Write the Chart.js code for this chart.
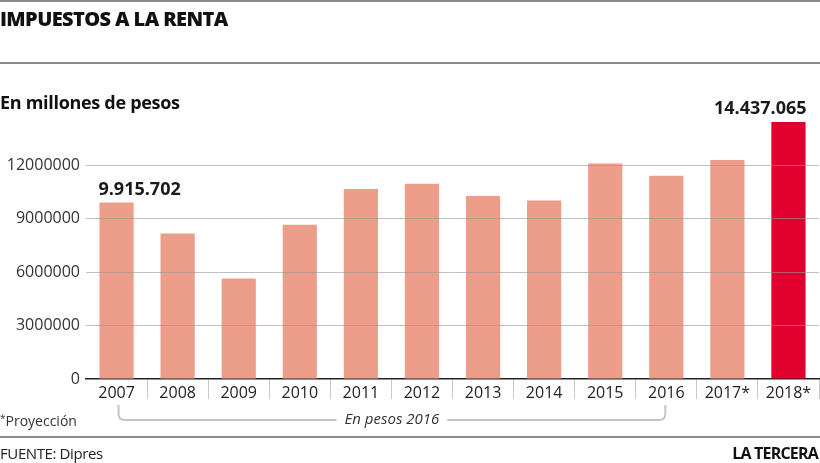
<!DOCTYPE html>
<html>
<head>
<meta charset="utf-8">
<script src="https://cdn.jsdelivr.net/npm/chart.js@4/dist/chart.umd.min.js"></script>
<style>
  html,body{margin:0;padding:0;background:#fff;}
  #wrap{position:relative;width:820px;height:463px;overflow:hidden;font-family:"Open Sans",sans-serif;color:#222;}
  canvas{position:absolute;left:0;top:0;}
  .rule{position:absolute;left:0;width:820px;height:2px;background:#8a8a8a;}
  .t{position:absolute;white-space:nowrap;}
</style>
</head>
<body>
<div id="wrap">
  <canvas id="c" width="820" height="463"></canvas>
  <div class="rule" style="top:0px;"></div>
  <div class="t" style="left:0;top:5px;font-size:20px;font-weight:800;letter-spacing:-0.6px;color:#111;">IMPUESTOS A LA RENTA</div>
  <div class="rule" style="top:62px;"></div>
  <div class="t" style="left:0;top:90px;font-size:18px;font-weight:700;letter-spacing:-0.3px;color:#111;">En millones de pesos</div>
  <div class="t" style="left:0;top:411px;font-size:14px;color:#333;"><span style="font-size:10px;vertical-align:4px;">*</span>Proyección</div>
  <div class="rule" style="top:436px;"></div>
  <div class="t" style="left:0;top:443px;font-size:15px;letter-spacing:-0.4px;color:#222;">FUENTE: Dipres</div>
  <div class="t" style="right:2px;top:442px;font-size:16px;font-weight:700;letter-spacing:-0.8px;color:#111;">LA TERCERA</div>
</div>
<script>
const categories = ["2007","2008","2009","2010","2011","2012","2013","2014","2015","2016","2017*","2018*"];
const values = [9915702, 8180000, 5650000, 8660000, 10670000, 10970000, 10280000, 10030000, 12110000, 11420000, 12300000, 14437065];
const barColors = ["#ec9e8a","#ec9e8a","#ec9e8a","#ec9e8a","#ec9e8a","#ec9e8a","#ec9e8a","#ec9e8a","#ec9e8a","#ec9e8a","#ec9e8a","#e0002d"];
const valueLabels = {0: "9.915.702", 11: "14.437.065"};
const yTicks = [0, 3000000, 6000000, 9000000, 12000000];
const bracketText = "En pesos 2016";

const annot = {
  id: 'annot',
  afterDatasetsDraw(chart) {
    const ctx = chart.ctx;
    const meta = chart.getDatasetMeta(0);
    ctx.save();
    ctx.fillStyle = '#1a1a1a';
    ctx.font = '700 18px "Open Sans", sans-serif';
    ctx.textBaseline = 'bottom';
    Object.keys(valueLabels).forEach(k => {
      const el = meta.data[k];
      const left = el.x - el.width / 2, right = el.x + el.width / 2;
      if (+k === 0) { ctx.textAlign = 'left'; ctx.fillText(valueLabels[k], left - 1, el.y - 4); }
      else { ctx.textAlign = 'right'; ctx.fillText(valueLabels[k], right + 1, el.y - 4); }
    });
    // bracket
    const xs = chart.scales.x;
    const x1 = xs.getPixelForValue(0) + 2, x2 = xs.getPixelForValue(9) - 1;
    const yTop = 405, yB = 420, r = 6;
    ctx.font = 'italic 15px "Open Sans", sans-serif';
    const tw = ctx.measureText(bracketText).width;
    const cx = (x1 + x2) / 2;
    ctx.strokeStyle = '#c4c4c4';
    ctx.lineWidth = 2;
    ctx.beginPath();
    ctx.moveTo(x1, yTop);
    ctx.lineTo(x1, yB - r);
    ctx.quadraticCurveTo(x1, yB, x1 + r, yB);
    ctx.lineTo(cx - tw / 2 - 8, yB);
    ctx.moveTo(cx + tw / 2 + 8, yB);
    ctx.lineTo(x2 - r, yB);
    ctx.quadraticCurveTo(x2, yB, x2, yB - r);
    ctx.lineTo(x2, yTop);
    ctx.stroke();
    ctx.fillStyle = '#333';
    ctx.textAlign = 'center';
    ctx.textBaseline = 'middle';
    ctx.fillText(bracketText, cx, yB);
    ctx.restore();
  }
};

new Chart(document.getElementById('c'), {
  type: 'bar',
  data: {
    labels: categories,
    datasets: [{
      data: values,
      backgroundColor: barColors,
      barPercentage: 0.56,
      categoryPercentage: 1.0
    }]
  },
  options: {
    responsive: false,
    animation: false,
    events: [],
    layout: { padding: { top: 112, right: 1, left: 0, bottom: 0 } },
    plugins: { legend: { display: false }, tooltip: { enabled: false } },
    scales: {
      x: {
        afterFit: s => { s.height = 84; },
        grid: {
          offset: true,
          drawOnChartArea: false,
          tickLength: 20,
          lineWidth: 1,
          color: c => (c.index === 0 || c.index === categories.length) ? 'rgba(0,0,0,0)' : '#c8c8c8'
        },
        border: { display: true, color: '#222', width: 1.5 },
        ticks: {
          padding: -15,
          color: '#222',
          font: { family: '"Open Sans", sans-serif', size: 16 },
          maxRotation: 0, autoSkip: false
        }
      },
      y: {
        min: 0,
        max: 15000000,
        afterFit: s => { s.width = 86; },
        afterBuildTicks: s => { s.ticks = yTicks.map(v => ({ value: v })); },
        border: { display: false },
        grid: {
          z: 1,
          drawTicks: false,
          lineWidth: 1,
          color: c => (c.tick && c.tick.value === 0) ? 'rgba(0,0,0,0)' : 'rgba(150,150,150,0.6)'
        },
        ticks: {
          padding: 6,
          color: '#333',
          font: { family: '"Open Sans", sans-serif', size: 16 },
          callback: v => String(v)
        }
      }
    }
  },
  plugins: [annot]
});
</script>
</body>
</html>
